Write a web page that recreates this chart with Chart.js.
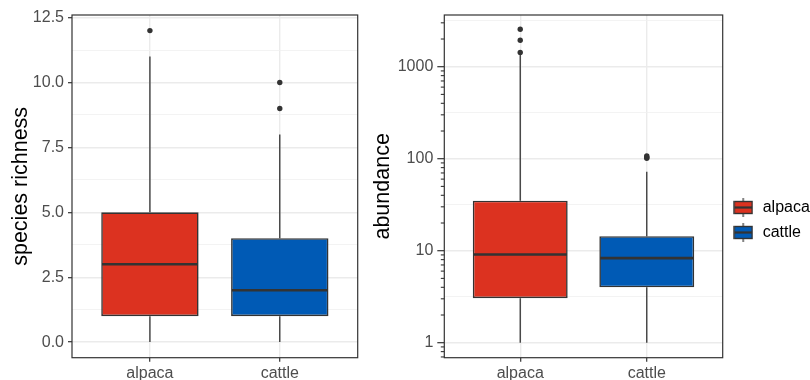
<!DOCTYPE html>
<html>
<head>
<meta charset="utf-8">
<script src="https://cdn.jsdelivr.net/npm/chart.js@4.4.1/dist/chart.umd.min.js"></script>
<style>
  html, body { margin: 0; padding: 0; background: #ffffff; }
  #wrap { position: relative; width: 810px; height: 380px; overflow: hidden; }
  canvas { position: absolute; top: 0; }
  #c1 { left: 0; }
  #c2 { left: 362px; }
</style>
</head>
<body>
<div id="wrap">
  <canvas id="c1" width="362" height="380"></canvas>
  <canvas id="c2" width="448" height="380"></canvas>
</div>
<script>
// ---------------- data ----------------
const categories = ['alpaca', 'cattle'];
const boxColors = ['#DC3220', '#005AB5'];

// species richness (left panel)
const richnessMin = [0, 0];
const richnessQ1 = [1, 1];
const richnessMedian = [3, 2];
const richnessQ3 = [5, 4];
const richnessMax = [11, 8];
const richnessOutliers = [[12], [9, 10]];
const richnessTicks = [0, 2.5, 5, 7.5, 10, 12.5];
const richnessTickLabels = ['0.0', '2.5', '5.0', '7.5', '10.0', '12.5'];

// abundance (right panel, log scale)
const abundanceMin = [1, 1];
const abundanceQ1 = [3.05, 4];
const abundanceMedian = [9.1, 8.3];
const abundanceQ3 = [35, 14.4];
const abundanceMax = [1400, 72];
const abundanceOutliers = [[1430, 1940, 2550], [101, 104, 107]];
const abundanceTicks = [1, 10, 100, 1000];
const abundanceTickLabels = ['1', '10', '100', '1000'];

// ---------------- styling ----------------
const FONT = "'Liberation Sans', Arial, Helvetica, sans-serif";
const TICK_COLOR = '#4D4D4D';
const LINE_DARK = '#333333';
const GRID_MAJOR = '#EBEBEB';
const GRID_MINOR = '#F0F0F0';

function boxPlugin(stats) {
  return {
    id: 'boxWhiskers',
    afterDatasetsDraw(chart) {
      const ctx = chart.ctx;
      const xs = chart.scales.x, ys = chart.scales.y;
      const meta = chart.getDatasetMeta(0);
      ctx.save();
      ctx.strokeStyle = LINE_DARK;
      stats.cats.forEach((c, i) => {
        const bar = meta.data[i];
        const x = xs.getPixelForValue(i + 1);
        const w = bar.width;
        ctx.lineWidth = 1.3;
        ctx.beginPath();
        ctx.moveTo(x, ys.getPixelForValue(stats.min[i]));
        ctx.lineTo(x, ys.getPixelForValue(stats.q1[i]));
        ctx.moveTo(x, ys.getPixelForValue(stats.q3[i]));
        ctx.lineTo(x, ys.getPixelForValue(stats.max[i]));
        ctx.stroke();
        ctx.lineWidth = 2.6;
        const my = ys.getPixelForValue(stats.median[i]);
        ctx.beginPath();
        ctx.moveTo(x - w / 2 + 0.8, my);
        ctx.lineTo(x + w / 2 - 0.8, my);
        ctx.stroke();
      });
      ctx.restore();
    },
    afterDraw(chart) {
      const a = chart.chartArea;
      const ctx = chart.ctx;
      ctx.save();
      ctx.strokeStyle = LINE_DARK;
      ctx.lineWidth = 1.2;
      ctx.strokeRect(a.left, a.top, a.right - a.left, a.bottom - a.top);
      ctx.restore();
    }
  };
}

function boxDatasets(q1, q3, outliers) {
  const outPts = [];
  outliers.forEach((arr, i) => arr.forEach(v => outPts.push({ x: i + 1, y: v })));
  return [
    {
      type: 'bar',
      data: categories.map((c, i) => ({ x: i + 1, y: [q1[i], q3[i]] })),
      backgroundColor: boxColors,
      borderColor: LINE_DARK,
      borderWidth: 1.6,
      borderSkipped: false,
      barPercentage: 0.75,
      categoryPercentage: 1,
      grouped: false
    },
    {
      type: 'scatter',
      data: outPts,
      pointRadius: 2.7,
      pointBackgroundColor: LINE_DARK,
      pointBorderWidth: 0
    }
  ];
}

function xScale() {
  return {
    type: 'linear',
    min: 0.4,
    max: 2.6,
    offset: false,
    afterBuildTicks(s) { s.ticks = categories.map((c, i) => ({ value: i + 1 })); },
    afterFit(s) { s.height = 22.3; },
    grid: {
      offset: false,
      color: GRID_MAJOR, lineWidth: 1.4,
      drawTicks: true, tickLength: 4, tickColor: LINE_DARK, tickWidth: 1.2
    },
    border: { display: false },
    ticks: {
      autoSkip: false, maxRotation: 0, padding: 2,
      color: TICK_COLOR, font: { family: FONT, size: 16 },
      callback: (v) => categories[Math.round(v) - 1]
    }
  };
}

// ---------------- left chart ----------------
const richMinor = richnessTicks.slice(0, -1).map((v, i) => (v + richnessTicks[i + 1]) / 2);
const richGridVals = richnessTicks.concat(richMinor).sort((a, b) => a - b);

new Chart(document.getElementById('c1'), {
  type: 'bar',
  data: { datasets: boxDatasets(richnessQ1, richnessQ3, richnessOutliers) },
  options: {
    responsive: false, animation: false,
    layout: { padding: { top: 15, right: 4.3, left: 0, bottom: 0 } },
    plugins: { legend: { display: false }, tooltip: { enabled: false } },
    scales: {
      x: xScale(),
      y: {
        type: 'linear', min: -0.6, max: 12.6,
        afterBuildTicks(s) { s.ticks = richGridVals.map(v => ({ value: v })); },
        afterFit(s) { s.width = 72; },
        grid: {
          color: (c) => richnessTicks.includes(c.tick.value) ? GRID_MAJOR : GRID_MINOR,
          lineWidth: (c) => richnessTicks.includes(c.tick.value) ? 1.4 : 0.8,
          drawTicks: true, tickLength: 4, tickWidth: 1.2,
          tickColor: (c) => richnessTicks.includes(c.tick.value) ? LINE_DARK : 'rgba(0,0,0,0)'
        },
        border: { display: false },
        ticks: {
          autoSkip: false, padding: 4, color: TICK_COLOR, font: { family: FONT, size: 16 },
          callback: (v) => { const k = richnessTicks.indexOf(v); return k >= 0 ? richnessTickLabels[k] : ''; }
        },
        title: {
          display: true, text: 'species richness', color: '#000000',
          font: { family: FONT, size: 21.5 }, padding: { top: 8, bottom: 0 }
        }
      }
    }
  },
  plugins: [boxPlugin({ cats: categories, min: richnessMin, q1: richnessQ1, median: richnessMedian, q3: richnessQ3, max: richnessMax })]
});

// ---------------- right chart ----------------
const abMinor = abundanceTicks.map(v => v * Math.sqrt(10));
const abGridVals = abundanceTicks.concat(abMinor).sort((a, b) => a - b);

function keyCanvas(color) {
  const c = document.createElement('canvas');
  c.width = 20; c.height = 19;
  const g = c.getContext('2d');
  g.strokeStyle = LINE_DARK;
  g.lineWidth = 1.2;
  g.beginPath();
  g.moveTo(10, 0); g.lineTo(10, 4);
  g.moveTo(10, 15); g.lineTo(10, 19);
  g.stroke();
  g.fillStyle = color;
  g.fillRect(1, 3.5, 18, 12);
  g.lineWidth = 1.4;
  g.strokeRect(1, 3.5, 18, 12);
  g.lineWidth = 2.2;
  g.beginPath();
  g.moveTo(1, 9.5); g.lineTo(19, 9.5);
  g.stroke();
  return c;
}

const logTicksPlugin = {
  id: 'logTicks',
  afterDraw(chart) {
    const ys = chart.scales.y;
    const a = chart.chartArea;
    const ctx = chart.ctx;
    ctx.save();
    ctx.strokeStyle = LINE_DARK;
    ctx.lineWidth = 1.1;
    for (let k = -1; k <= 3; k++) {
      for (let m = 2; m <= 9; m++) {
        const v = m * Math.pow(10, k);
        if (v < ys.min || v > ys.max) continue;
        const y = ys.getPixelForValue(v);
        ctx.beginPath();
        ctx.moveTo(a.left - 3.5, y);
        ctx.lineTo(a.left, y);
        ctx.stroke();
      }
    }
    ctx.restore();
  }
};

new Chart(document.getElementById('c2'), {
  type: 'bar',
  data: { datasets: boxDatasets(abundanceQ1, abundanceQ3, abundanceOutliers) },
  options: {
    responsive: false, animation: false,
    layout: { padding: { top: 15, right: 0, left: 0, bottom: 0 } },
    plugins: {
      tooltip: { enabled: false },
      legend: {
        display: true, position: 'right', maxWidth: 87.3,
        title: { display: true, text: ' ', font: { size: 10, lineHeight: 1.2 }, padding: { top: 0, bottom: 33 } },
        labels: {
          usePointStyle: true, pointStyleWidth: 23, padding: 9,
          color: '#000000', font: { family: FONT, size: 16 },
          generateLabels: () => categories.map((c, i) => ({
            text: c, pointStyle: keyCanvas(boxColors[i]), fillStyle: boxColors[i],
            fontColor: '#000000',
            strokeStyle: LINE_DARK, lineWidth: 0, hidden: false, datasetIndex: 0, index: i
          }))
        }
      }
    },
    scales: {
      x: xScale(),
      y: {
        type: 'logarithmic', min: 0.687, max: 3648,
        afterBuildTicks(s) { s.ticks = abGridVals.map(v => ({ value: v })); },
        afterFit(s) { s.width = 82.3; },
        grid: {
          color: (c) => abundanceTicks.includes(c.tick.value) ? GRID_MAJOR : GRID_MINOR,
          lineWidth: (c) => abundanceTicks.includes(c.tick.value) ? 1.4 : 0.8,
          drawTicks: true, tickLength: 7, tickWidth: 1.2,
          tickColor: (c) => abundanceTicks.includes(c.tick.value) ? LINE_DARK : 'rgba(0,0,0,0)'
        },
        border: { display: false },
        ticks: {
          autoSkip: false, padding: 4, color: TICK_COLOR, font: { family: FONT, size: 16 },
          callback: (v) => { const k = abundanceTicks.indexOf(v); return k >= 0 ? abundanceTickLabels[k] : ''; }
        },
        title: {
          display: true, text: 'abundance', color: '#000000',
          font: { family: FONT, size: 21.5 }, padding: { top: 8, bottom: 0 }
        }
      }
    }
  },
  plugins: [boxPlugin({ cats: categories, min: abundanceMin, q1: abundanceQ1, median: abundanceMedian, q3: abundanceQ3, max: abundanceMax }), logTicksPlugin]
});
</script>
</body>
</html>
